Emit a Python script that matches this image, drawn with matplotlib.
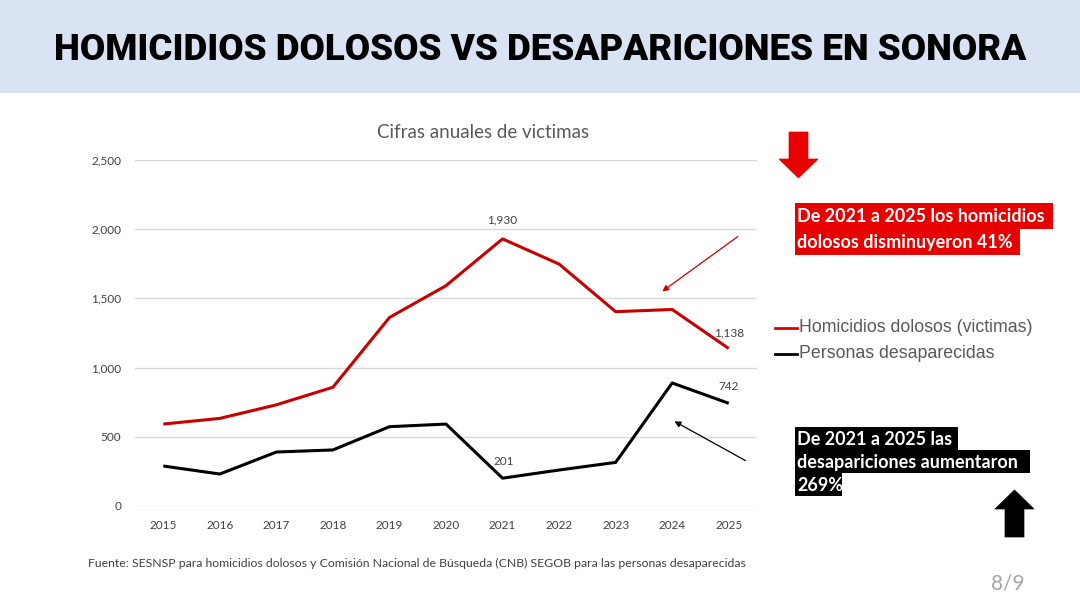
import matplotlib
matplotlib.use("Agg")
import matplotlib.pyplot as plt
from matplotlib.patches import Rectangle, Polygon

years = [2015, 2016, 2017, 2018, 2019, 2020, 2021, 2022, 2023, 2024, 2025]
homicidios = [592, 633, 731, 858, 1362, 1592, 1930, 1748, 1404, 1420, 1138]
desaparecidas = [289, 231, 390, 405, 573, 592, 201, 260, 315, 889, 742]
yticks = [0, 500, 1000, 1500, 2000, 2500]
ytick_labels = ["0", "500", "1,000", "1,500", "2,000", "2,500"]
series_names = ["Homicidios dolosos (victimas)", "Personas desaparecidas"]

W, H = 1080, 596
fig = plt.figure(figsize=(W / 100, H / 100), dpi=100)
fig.patch.set_facecolor("white")

def fx(px):
    return px / W

def fy(py):
    return 1 - py / H

# header band
fig.patches.append(Rectangle((0, fy(93)), 1, 93 / H, transform=fig.transFigure,
                             facecolor="#dae3f3", edgecolor="none", zorder=0))
fig.text(0.5, fy(50), "HOMICIDIOS DOLOSOS VS DESAPARICIONES EN SONORA",
         ha="center", va="center", fontsize=26.5, fontweight="black",
         family=["Roboto", "DejaVu Sans"], color="black")

ax = fig.add_axes([fx(135), fy(506), fx(757) - fx(135), fy(160) - fy(506)])
red = "#c80000"
ax.plot(years, homicidios, color=red, lw=2.2, solid_capstyle="butt", zorder=3)
ax.plot(years, desaparecidas, color="black", lw=2.2, solid_capstyle="butt", zorder=3)
ax.set_xlim(2014.5, 2025.5)
ax.set_ylim(0, 2500)
ax.set_yticks(yticks)
ax.set_yticklabels(ytick_labels)
ax.set_xticks(years)
ax.set_xticklabels([str(y) for y in years])
ax.grid(axis="y", color="#d9d9d9", lw=1)
ax.set_axisbelow(True)
for s in ax.spines.values():
    s.set_visible(False)
ax.tick_params(length=0, labelsize=8.5, labelcolor="#404040", pad=10)
for lab in ax.get_xticklabels() + ax.get_yticklabels():
    lab.set_family(["Lato", "DejaVu Sans"])
fig.text(fx(483), fy(132), "Cifras anuales de victimas", ha="center", va="center",
         fontsize=13.5, color="#595959", family=["Lato", "DejaVu Sans"])

lblkw = dict(fontsize=8.5, color="#404040", family=["Lato", "DejaVu Sans"])
ax.annotate("1,930", (years[6], homicidios[6]), xytext=(0, 10), textcoords="offset points",
            ha="center", va="bottom", **lblkw)
ax.annotate("1,138", (years[10], homicidios[10]), xytext=(0, 7), textcoords="offset points",
            ha="center", va="bottom", **lblkw)
ax.annotate("742", (years[10], desaparecidas[10]), xytext=(0, 8), textcoords="offset points",
            ha="center", va="bottom", **lblkw)
ax.annotate("201", (years[6], desaparecidas[6]), xytext=(1, 8), textcoords="offset points",
            ha="center", va="bottom", **lblkw)

# legend
legkw = dict(fontsize=12.8, color="#595959", family=["Liberation Sans", "DejaVu Sans"],
             va="center", ha="left")
fig.lines.append(plt.Line2D([fx(775), fx(797)], [fy(328), fy(328)], color="#e00000", lw=2,
                            transform=fig.transFigure))
fig.lines.append(plt.Line2D([fx(775), fx(797)], [fy(354), fy(354)], color="black", lw=2,
                            transform=fig.transFigure))
fig.text(fx(799), fy(328), series_names[0], **legkw)
fig.text(fx(799), fy(354), series_names[1], **legkw)

# thin arrows
fig_px = "figure pixels"
ax.annotate("", xy=(660, H - 293), xytext=(740, H - 235), xycoords=fig_px, textcoords=fig_px,
            arrowprops=dict(arrowstyle="-|>", color=red, lw=0.9, mutation_scale=9))
ax.annotate("", xy=(672, H - 420), xytext=(748, H - 462), xycoords=fig_px, textcoords=fig_px,
            arrowprops=dict(arrowstyle="-|>", color="black", lw=0.9, mutation_scale=9))

# block arrows
def poly(pts, color):
    fig.patches.append(Polygon([(fx(x), fy(y)) for x, y in pts], closed=True,
                               transform=fig.transFigure, facecolor=color, edgecolor=color, lw=0.5))

poly([(789, 132), (808, 132), (808, 159), (818, 159), (798.5, 178), (779, 159), (789, 159)], "#e60000")
poly([(1005, 537), (1024, 537), (1024, 509), (1034, 509), (1014.5, 490), (995, 509), (1005, 509)], "black")

# boxes with text
boxfont = ["Lato", "DejaVu Sans"]
def line_box(text, x, ytop, x2, h, bg):
    fig.patches.append(Rectangle((fx(x), fy(ytop + h)), fx(x2) - fx(x), h / H,
                                 transform=fig.transFigure, facecolor=bg, edgecolor="none"))
    fig.text(fx(x + 2), fy(ytop + h / 2 + 1), text, ha="left", va="center", fontsize=13,
             fontweight="bold", color="white", family=boxfont)

line_box("De 2021 a 2025 los homicidios", 795, 203, 1053, 26, "#e60000")
line_box("dolosos disminuyeron 41%", 795, 229, 1020, 26, "#e60000")
line_box("De 2021 a 2025 las", 795, 427, 958, 23, "black")
line_box("desapariciones aumentaron", 795, 450, 1030, 23, "black")
line_box("269%", 795, 473, 842, 23, "black")

fig.text(fx(88), fy(563), "Fuente: SESNSP para homicidios dolosos y Comisión Nacional de Búsqueda (CNB) SEGOB para las personas desaparecidas",
         ha="left", va="center", fontsize=8.8, color="#404040", family=["Lato", "DejaVu Sans"])
fig.text(fx(1008), fy(584), "8/9", ha="center", va="center", fontsize=15, color="#a6a6a6",
         family=["Lato", "DejaVu Sans"])

fig.savefig("out.png", dpi=100)
